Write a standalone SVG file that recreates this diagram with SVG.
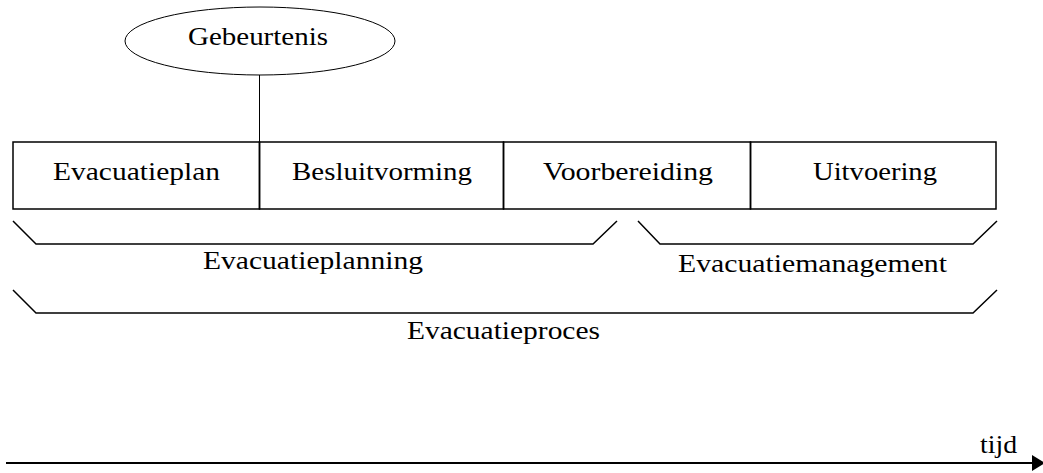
<svg xmlns="http://www.w3.org/2000/svg" width="1043" height="473" viewBox="0 0 1043 473">
  <style>
    .lbl { font-family: "Liberation Serif", "DejaVu Serif", serif; font-size: 26px; fill: #000; }
    .ln { fill: none; stroke: #000; stroke-width: 1.5; }
    .thin { fill: none; stroke: #000; stroke-width: 1; }
  </style>
  <rect width="1043" height="473" fill="#fff"/>

  <!-- connectors: event link, brackets, time axis -->
  <g id="connectors">
    <line class="thin" x1="259.5" y1="75" x2="259.5" y2="142"/>
    <polyline class="ln" points="13,221 36,244 593,244 617,221"/>
    <polyline class="ln" points="638,221 660,244 973,244 997,221"/>
    <polyline class="ln" points="13,290 36,313 973,313 997,290"/>
    <line x1="6" y1="463" x2="1033" y2="463" stroke="#000" stroke-width="2"/>
    <polygon points="1032,455 1045,463 1032,471" fill="#000"/>
  </g>

  <g id="gebeurtenis">
    <ellipse class="thin" cx="260" cy="41" rx="135" ry="34" fill="#fff"/>
    <text class="lbl" x="188" y="45" textLength="140" lengthAdjust="spacingAndGlyphs">Gebeurtenis</text>
  </g>

  <g id="evacuatieplan">
    <rect class="ln" x="13" y="142" width="246.5" height="67"/>
    <text class="lbl" x="53" y="180" textLength="167" lengthAdjust="spacingAndGlyphs">Evacuatieplan</text>
  </g>
  <g id="besluitvorming">
    <rect class="ln" x="259.5" y="142" width="244" height="67"/>
    <text class="lbl" x="292" y="180" textLength="180" lengthAdjust="spacingAndGlyphs">Besluitvorming</text>
  </g>
  <g id="voorbereiding">
    <rect class="ln" x="503.5" y="142" width="247" height="67"/>
    <text class="lbl" x="543" y="180" textLength="170" lengthAdjust="spacingAndGlyphs">Voorbereiding</text>
  </g>
  <g id="uitvoering">
    <rect class="ln" x="750.5" y="142" width="245.5" height="67"/>
    <text class="lbl" x="813" y="180" textLength="124" lengthAdjust="spacingAndGlyphs">Uitvoering</text>
  </g>

  <g id="evacuatieplanning">
    <text class="lbl" x="203" y="269" textLength="220" lengthAdjust="spacingAndGlyphs">Evacuatieplanning</text>
  </g>
  <g id="evacuatiemanagement">
    <text class="lbl" x="678" y="272" textLength="269" lengthAdjust="spacingAndGlyphs">Evacuatiemanagement</text>
  </g>
  <g id="evacuatieproces">
    <text class="lbl" x="407" y="339" textLength="193" lengthAdjust="spacingAndGlyphs">Evacuatieproces</text>
  </g>
  <g id="tijd">
    <text class="lbl" x="980" y="453" textLength="37" lengthAdjust="spacingAndGlyphs">tijd</text>
  </g>
</svg>
